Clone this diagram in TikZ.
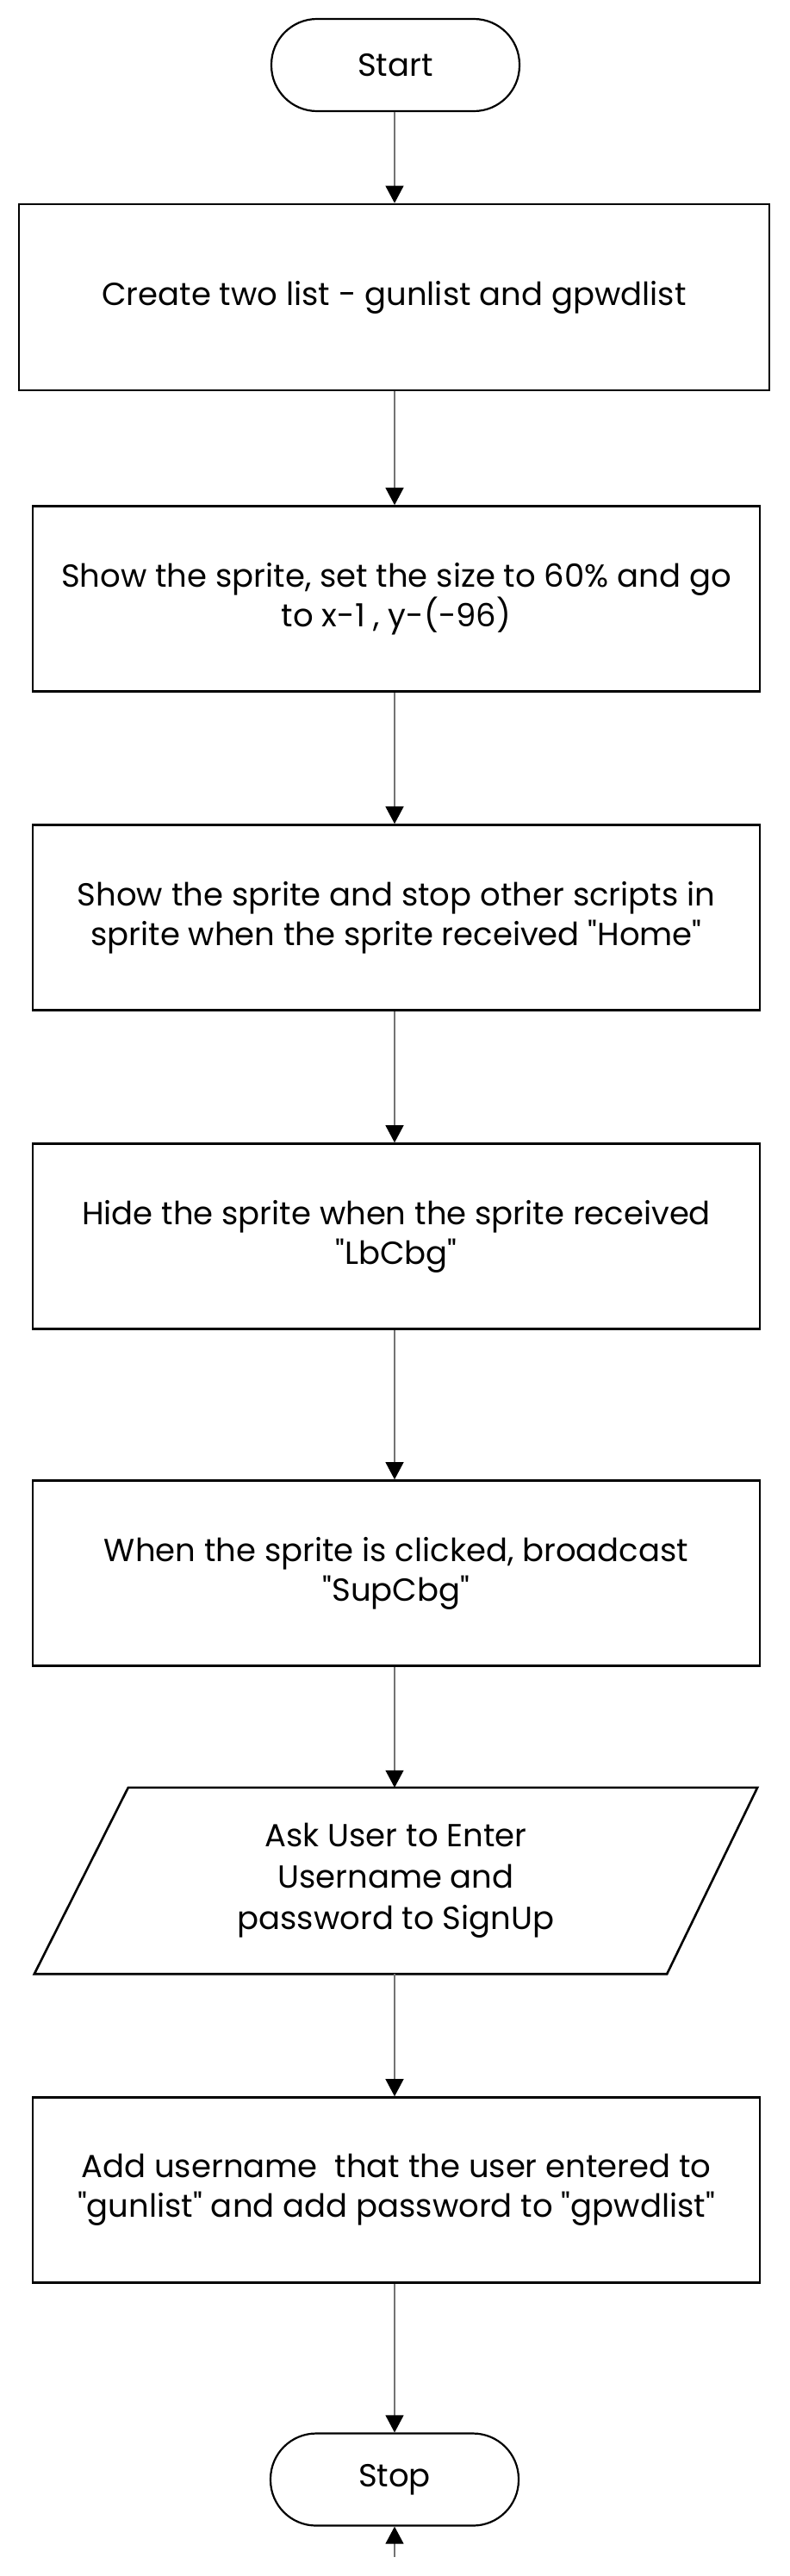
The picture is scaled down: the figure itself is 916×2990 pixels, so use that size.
\documentclass[tikz,border=0pt]{standalone}
\usepackage{fontspec}
\setmainfont{Poppins}[Ligatures=TeXOff]
\usetikzlibrary{arrows.meta}
\begin{document}
\begin{tikzpicture}[x=1pt,y=-1pt,
  every node/.style={font=\fontsize{37}{46}\selectfont, align=center, inner sep=0pt},
  term/.style={draw, line width=2.2pt, rounded corners=53pt, minimum width=288pt, minimum height=107pt},
  proc/.style={draw, line width=2.6pt, minimum width=844pt, minimum height=215pt},
  arr/.style={draw=black!55, line width=1.2pt, -{Triangle[black,length=20pt,width=21pt]}}
]
\useasboundingbox (0,0) rectangle (916,2990);
\node[term] (start) at (459,75.5) {Start};
\node[proc, minimum width=871pt, minimum height=216pt] (b1) at (457.5,345) {Create two list - gunlist and gpwdlist};
\node[proc] (b2) at (460,695) {Show the sprite, set the size to 60\% and go\\to x-1 , y-(-96)};
\node[proc] (b3) at (460,1065) {Show the sprite and stop other scripts in\\sprite when the sprite received "Home"};
\node[proc] (b4) at (460,1435) {Hide the sprite when the sprite received\\"LbCbg"};
\node[proc] (b5) at (460,1826) {When the sprite is clicked, broadcast\\"SupCbg"};
\node[minimum width=839pt, minimum height=216pt, font=\fontsize{37}{48}\selectfont] (p) at (459.5,2183) {Ask User to Enter\\Username and\\password to SignUp};
\draw[line width=2.6pt, line join=miter] (p.south west) -- ([xshift=109pt]p.north west) -- (p.north east) -- ([xshift=-105pt]p.south east) -- cycle;
\node[proc] (b7) at (460,2542) {Add username\ \ that the user entered to\\"gunlist" and add password to "gpwdlist"};
\node[term] (stop) at (458,2878) {Stop};
\coordinate (tail) at (458,2968);
\draw[arr] (start.south -| 458,0) -- (b1.north -| 458,0);
\draw[arr] (b1.south -| 458,0) -- (b2.north -| 458,0);
\draw[arr] (b2.south -| 458,0) -- (b3.north -| 458,0);
\draw[arr] (b3.south -| 458,0) -- (b4.north -| 458,0);
\draw[arr] (b4.south -| 458,0) -- (b5.north -| 458,0);
\draw[arr] (b5.south -| 458,0) -- (p.north -| 458,0);
\draw[arr] (p.south -| 458,0) -- (b7.north -| 458,0);
\draw[arr] (b7.south -| 458,0) -- (stop.north -| 458,0);
\draw[arr] (tail) -- (stop.south);
\end{tikzpicture}
\end{document}
